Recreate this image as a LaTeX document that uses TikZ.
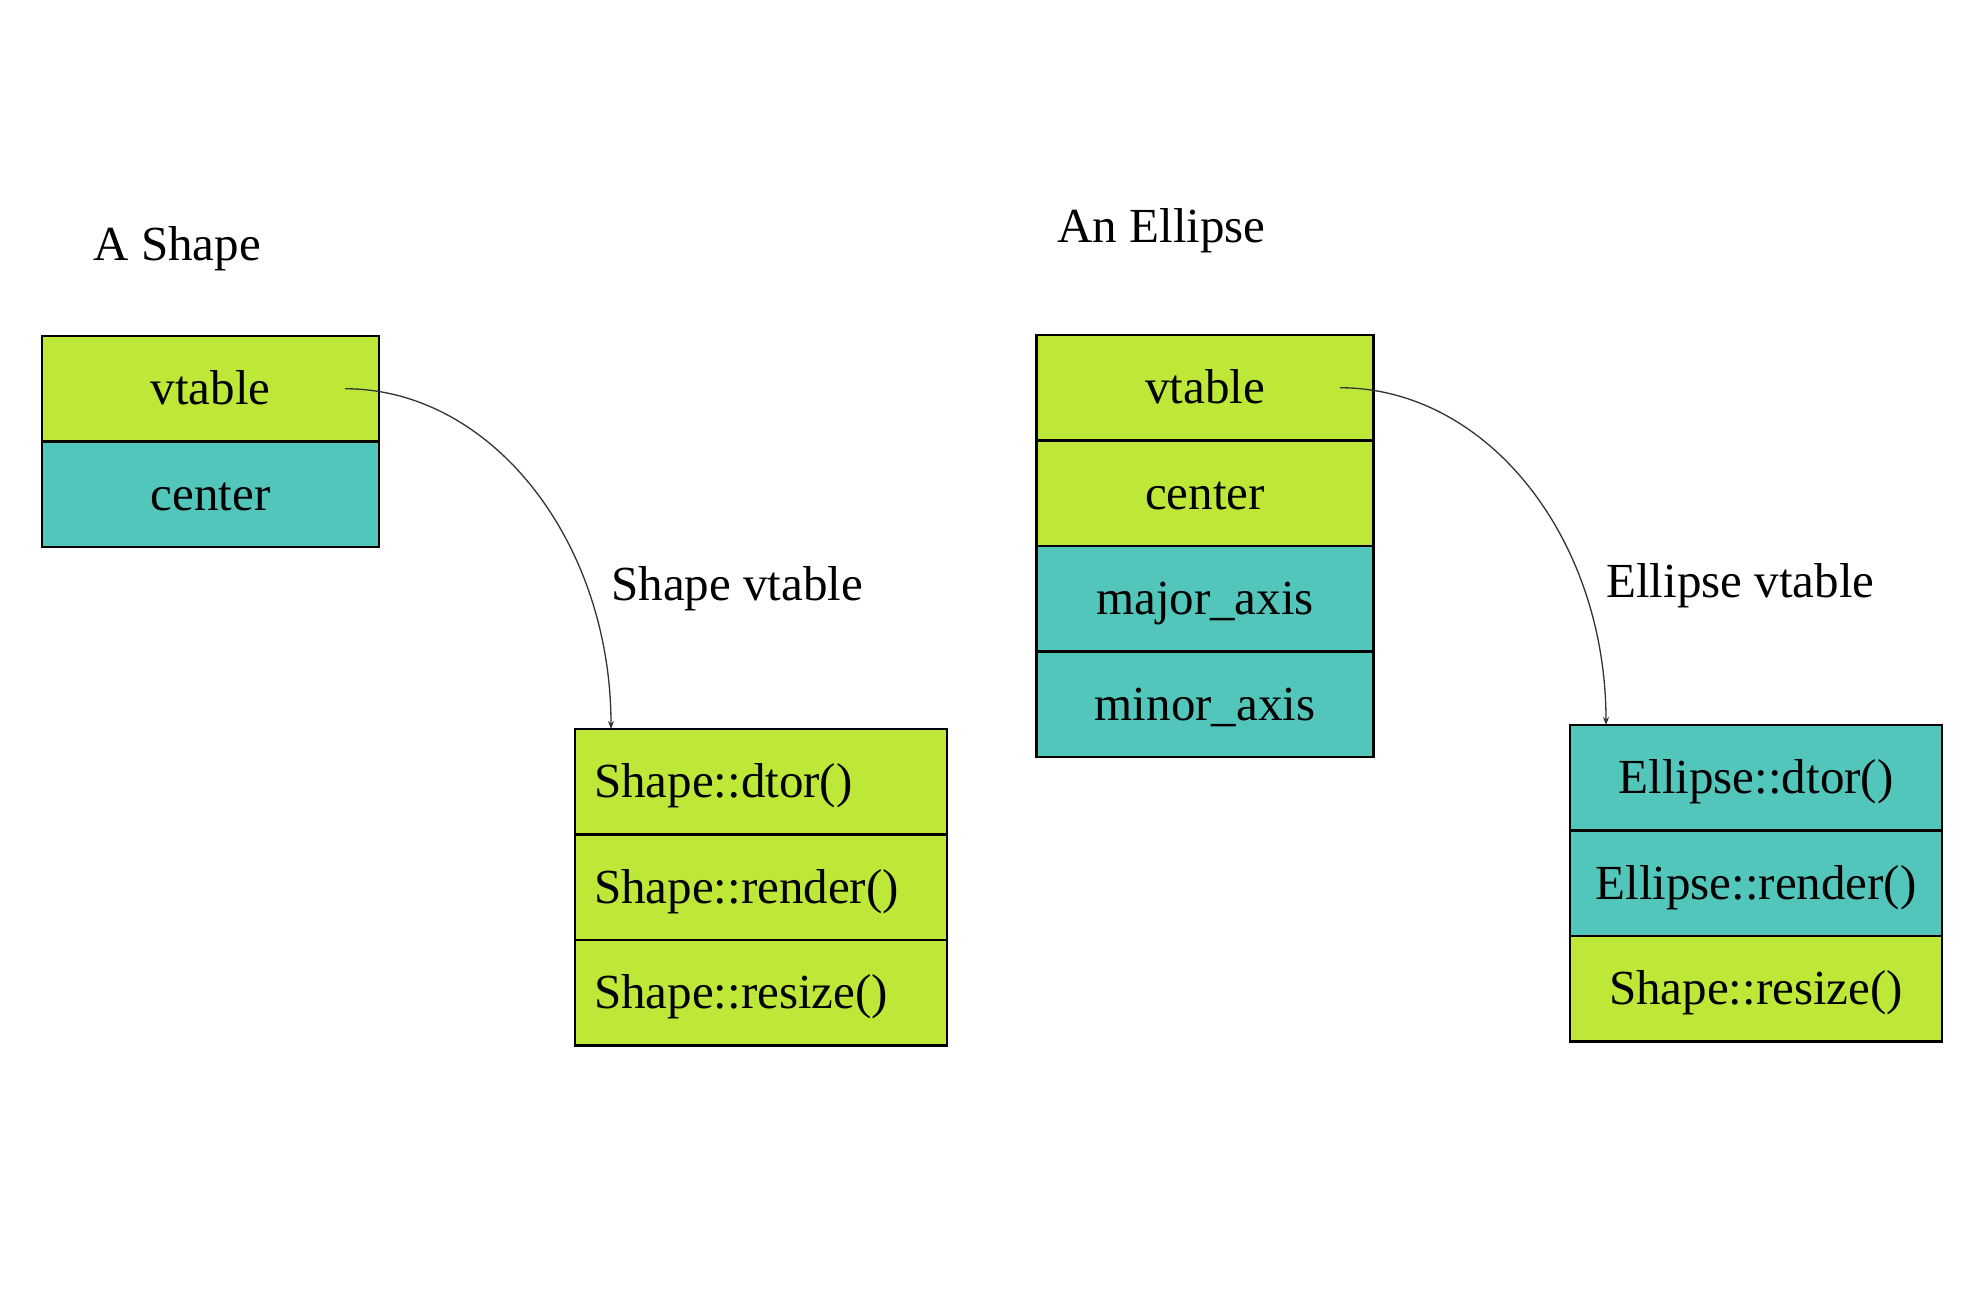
\documentclass[tikz,border=0pt]{standalone}
\usepackage{fontspec}
\setmainfont{Liberation Serif}
\usetikzlibrary{arrows.meta}
\definecolor{limefill}{RGB}{190,232,56}
\definecolor{tealfill}{RGB}{82,198,186}
\begin{document}
\begin{tikzpicture}[x=0.5pt,y=-0.5pt,
  cell/.style={draw=black, line width=1.2pt, inner sep=0pt, outer sep=0pt,
    minimum height=52.75pt, text height=16pt, text depth=0pt,
    font=\fontsize{24.5}{29}\selectfont, anchor=north},
  objcell/.style={cell, minimum width=168.5pt},
  vtcell/.style={cell, text width=167pt, inner xsep=9.5pt, align=left},
  vtcellc/.style={cell, text width=167pt, inner xsep=9.5pt, align=center},
  lime/.style={fill=limefill},
  teal/.style={fill=tealfill},
  title/.style={font=\fontsize{24.5}{29}\selectfont, anchor=base west, inner sep=0pt},
  ptr/.style={draw=black!80, line width=0.65pt, -{Stealth[length=4pt,width=3pt]}}
]
\fill[white] (0,0) rectangle (1974,1290);
\useasboundingbox (0,0) rectangle (1974,1290);

% titles and labels
\node[title] (tshape) at (93,260) {A Shape};
\node[title] (tell) at (1057,242) {An Ellipse};
\node[title] (lsv) at (611,600) {Shape vtable};
\node[title] (lev) at (1606,597) {Ellipse vtable};

% A Shape object
\node[objcell, lime] (s1) at (210.5,336) {vtable};
\node[objcell, teal] (s2) at (s1.south) {center};

% An Ellipse object
\node[objcell, lime] (e1) at (1205,335) {vtable};
\node[objcell, lime] (e2) at (e1.south) {center};
\node[objcell, teal] (e3) at (e2.south) {major\_axis};
\node[objcell, teal] (e4) at (e3.south) {minor\_axis};

% Shape vtable
\node[vtcell, lime] (sv1) at (761,729) {Shape::dtor()};
\node[vtcell, lime] (sv2) at (sv1.south) {Shape::render()};
\node[vtcell, lime] (sv3) at (sv2.south) {Shape::resize()};

% Ellipse vtable
\node[vtcellc, teal] (ev1) at (1756,725) {Ellipse::dtor()};
\node[vtcellc, teal] (ev2) at (ev1.south) {Ellipse::render()};
\node[vtcellc, lime] (ev3) at (ev2.south) {Shape::resize()};

% pointers
\coordinate (sp) at ([xshift=67.25pt]s1.center);
\coordinate (se) at ([xshift=18pt]sv1.north west);
\coordinate (ep) at ([xshift=67.5pt]e1.center);
\coordinate (ee) at ([xshift=18pt]ev1.north west);
\draw[ptr] (sp) .. controls +(147,0) and +(0,-187) .. (se);
\draw[ptr] (ep) .. controls +(147,0) and +(0,-187) .. (ee);
\end{tikzpicture}
\end{document}
